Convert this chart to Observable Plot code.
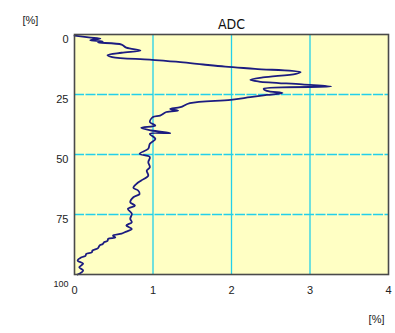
<!DOCTYPE html>
<html><head><meta charset="utf-8">
<script src="https://cdn.jsdelivr.net/npm/d3@7"></script>
<script src="https://cdn.jsdelivr.net/npm/@observablehq/plot@0.6"></script>
<style>html,body{margin:0;padding:0;background:#fff;}</style>
</head><body><div id="chart"></div>
<script>
const depth = [0.5,1.2,1.7,2.4,2.9,3.3,4.2,5.5,6.7,7.6,8.6,9.4,10.5,11.5,12.5,13.4,14.3,15.7,16.4,17.9,18.9,19.6,20.8,21.7,22.6,23.5,24.4,25.2,26.1,27.2,28.6,30.3,31.0,31.7,32.3,33.8,34.4,36.5,37.9,38.9,40.0,41.1,41.4,43.5,45.5,47.6,49.7,51.1,53.2,55.3,56.7,58.8,60.8,62.2,63.9,65.0,66.4,67.8,69.9,71.3,72.6,74.7,76.8,78.2,79.6,81.0,82.4,83.0,83.8,84.6,85.1,86.0,86.5,87.3,87.9,89.0,90.0,90.8,91.4,92.2,92.8,94.2,95.5,97.0,98.3,100];
const adc   = [0.0,0.18,0.33,0.20,0.36,0.30,0.60,0.66,0.84,0.60,0.42,0.48,0.96,1.35,1.64,1.92,2.30,2.88,2.82,2.40,2.24,2.35,2.90,3.27,2.41,2.45,2.65,2.45,2.24,1.99,1.47,1.35,1.22,1.32,1.17,1.09,1.00,0.96,1.03,0.85,0.98,1.22,0.96,1.03,0.96,0.94,0.83,0.96,0.94,0.96,0.92,0.94,0.85,0.79,0.75,0.81,0.83,0.75,0.71,0.77,0.68,0.73,0.71,0.73,0.66,0.73,0.64,0.60,0.49,0.52,0.43,0.42,0.38,0.36,0.32,0.30,0.23,0.22,0.15,0.14,0.09,0.04,0.11,0.06,0.11,0.04];
const xTicks = [0,1,2,3,4];
const xGrid = [1,2,3];
const yTicks = [0,25,50,75];
const yLast = [100];
const yGrid = [25,50,75];
const title = "ADC";
const unit = "[%]";

const data = depth.map((d,i)=>({depth:d, adc:adc[i]}));
const font = "Liberation Sans, Arial, sans-serif";

const chart = Plot.plot({
  width: 395, height: 333,
  marginLeft: 74, marginRight: 7, marginTop: 34, marginBottom: 59,
  style: {fontFamily: font, background: "#fff", overflow: "visible"},
  x: {domain: [0,4], axis: null},
  y: {domain: [0,100], reverse: true, axis: null},
  marks: [
    Plot.frame({fill: "#ffffc4"}),
    Plot.ruleX(xGrid, {stroke: "#22d0ea", strokeWidth: 1.3}),
    Plot.ruleY(yGrid, {stroke: "#22d0ea", strokeWidth: 1.3, strokeDasharray: "10,1.5"}),
    Plot.line(data, {x: "adc", y: "depth", stroke: "#1c1c80", strokeWidth: 1.8, curve: "catmull-rom"}),
    Plot.frame({stroke: "#4a4a4a", strokeWidth: 1.6}),
    Plot.text(xTicks, {x: d=>d, frameAnchor: "bottom", dy: 19, text: d=>String(d), fontSize: 11, fill: "#222"}),
    Plot.text(yTicks, {y: d=>d, frameAnchor: "left", dx: -6, dy: 5, textAnchor: "end", text: d=>String(d), fontSize: 11, fill: "#222"}),
    Plot.text(yLast, {y: d=>d, frameAnchor: "left", dx: -6, dy: 10, textAnchor: "end", text: d=>String(d), fontSize: 9, fill: "#222"}),
    Plot.text([title], {frameAnchor: "top", dy: -15, text: d=>d, fontSize: 14, fill: "#111", fontFamily: "DejaVu Sans Condensed, sans-serif"}),
    Plot.text([unit], {frameAnchor: "top-left", dx: -52, dy: -18, text: d=>d, fontSize: 11, fill: "#222"}),
    Plot.text([unit], {frameAnchor: "bottom-right", dx: -4, dy: 48, text: d=>d, fontSize: 11, fill: "#222"})
  ]
});
document.getElementById("chart").appendChild(chart);
</script>
</body></html>
